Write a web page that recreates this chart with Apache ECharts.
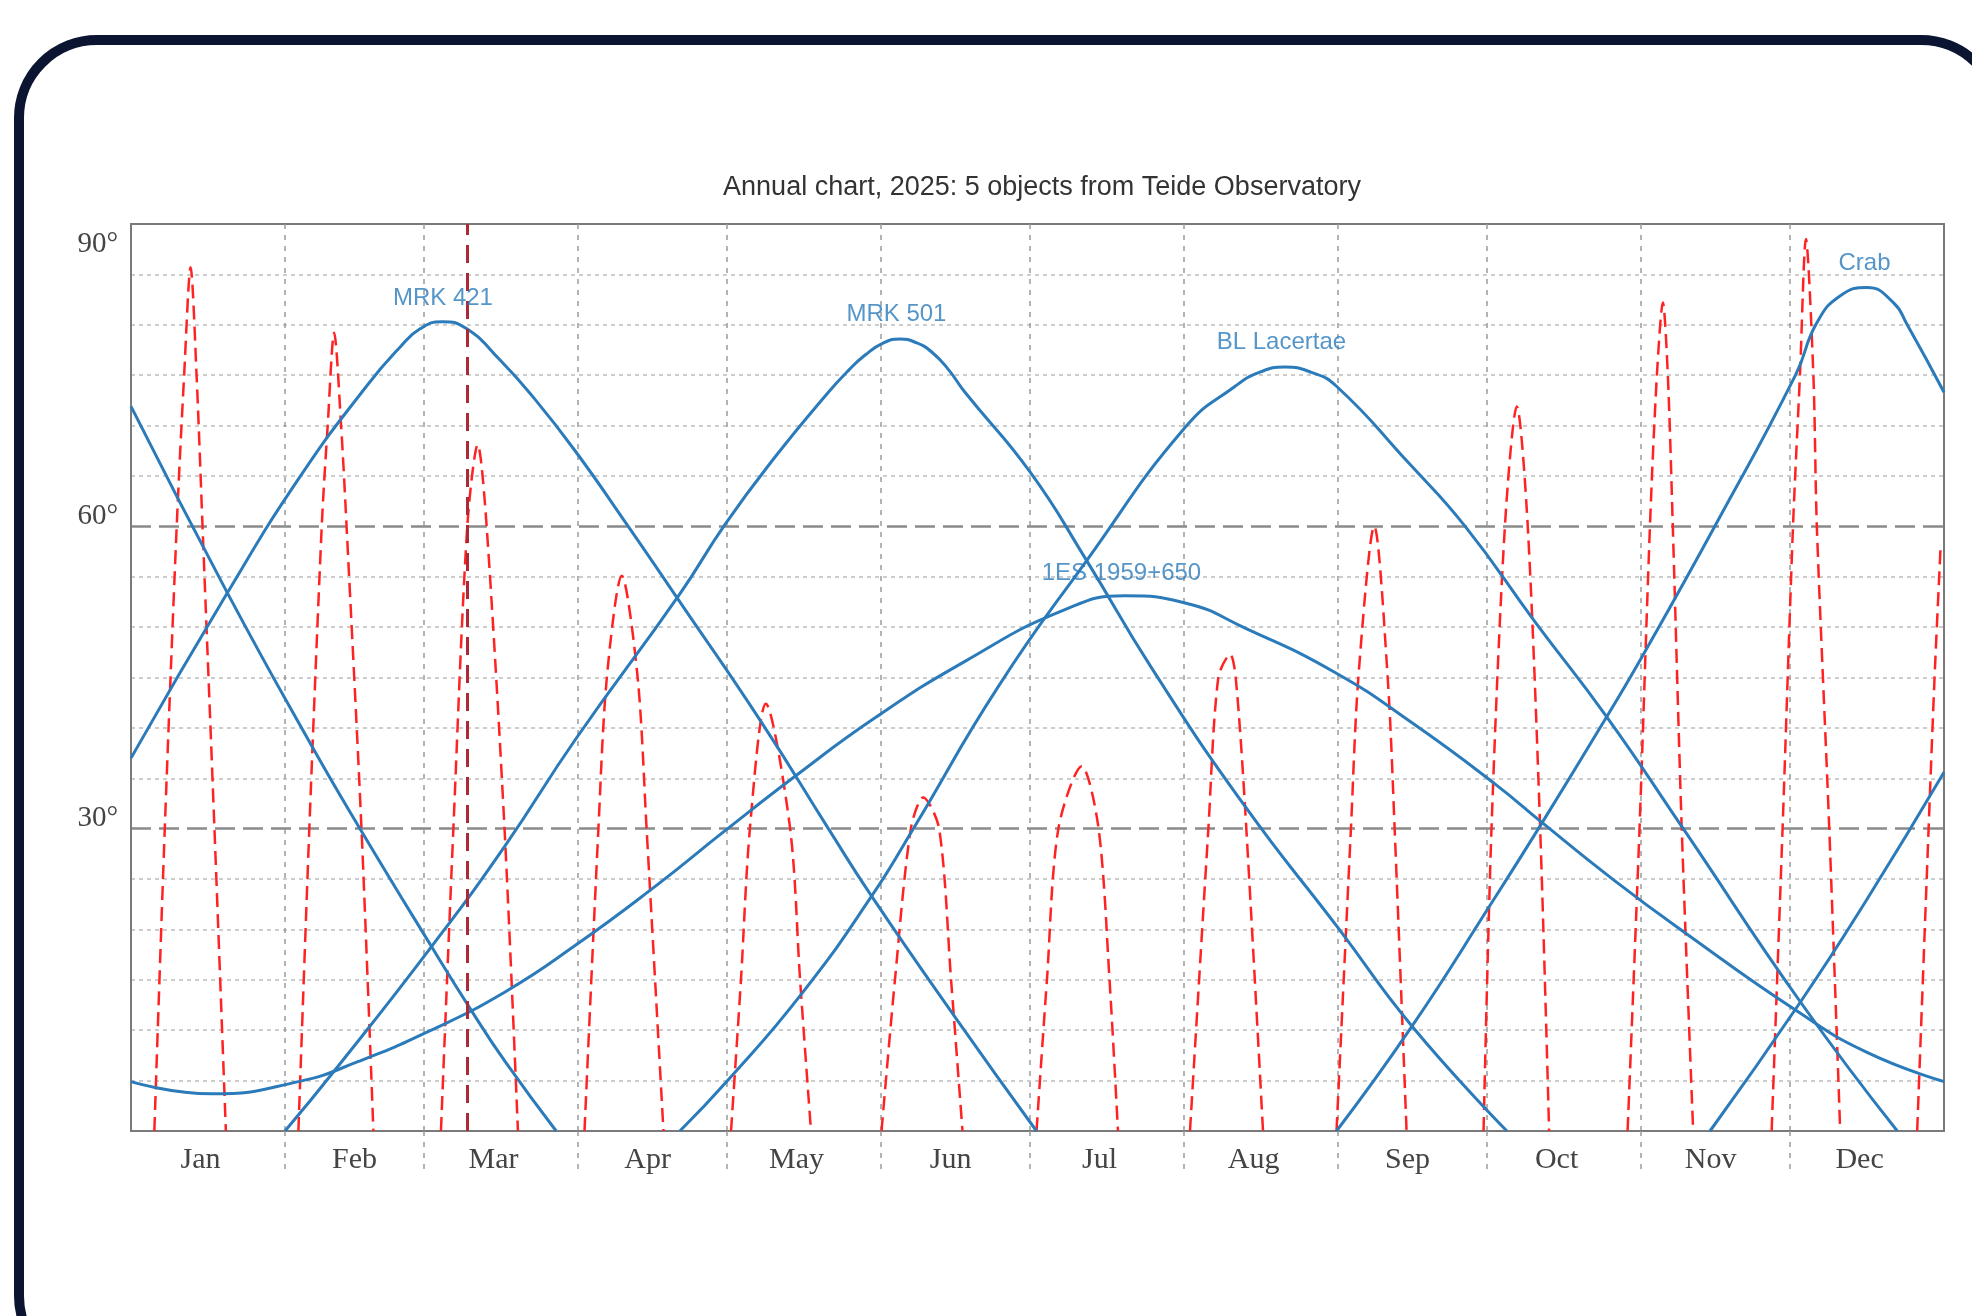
<!DOCTYPE html>
<html>
<head>
<meta charset="utf-8">
<script src="https://cdn.jsdelivr.net/npm/echarts@6/dist/echarts.min.js"></script>
<style>
  html, body { margin: 0; padding: 0; background: #fff; }
  #chart { width: 1972px; height: 1316px; }
</style>
</head>
<body>
<div id="chart"></div>
<script>
// months on the x axis (day of year 0..365)
var months = ['Jan','Feb','Mar','Apr','May','Jun','Jul','Aug','Sep','Oct','Nov','Dec'];
var monthStart = [31, 59, 90, 120, 151, 181, 212, 243, 273, 304, 334];
var monthMid = [14, 45, 73, 104, 134, 165, 195, 226, 257, 287, 318, 348];
var yTicks = [30, 60, 90];
var today = 67.7;

// altitude (deg) of each object, [day, alt]
var crab = [[0,71.9],[19.4,53.4],[36.4,38.2],[46.1,30.0],[60.5,18.3],[68.6,11.9],[75.3,6.9],[85.6,0],
    [160,'-'],
    [242.7,0],[257.9,10.4],[274,22.7],[284.1,30.6],[297.1,41.1],[304.5,47.3],[319.3,60.4],[335.1,75],
    [339.4,80.2],[344.2,82.9],[349.5,83.7],[354.8,82.2],[357.6,80],[365,73.3]];
var mrk421 = [[0,37.0],[19.4,53.4],[34.0,64.9],[47.4,73.9],[54.2,77.8],[58.2,79.6],[62.6,80.3],[67.6,79.6],
    [74.3,76.5],[81.0,72.8],[89.4,67.5],[100.1,60],[110.5,52.5],[127,40.5],[140.4,30],[149.1,23.3],
    [165.9,11.3],[182.3,0],
    [250,'-'],
    [317.9,0],[336.1,12.8],[349.5,23],[365,35.6]];
var mrk501 = [[31.0,0],[41,6.0],[60.5,18.3],[75.3,28.3],[89.4,38.8],[110.5,53.3],[119.6,60.2],[129.7,66.9],
    [140.4,73.3],[144.5,75.5],[147.8,77.0],[151.5,78.2],[154.8,78.6],[158.2,78.2],[161.2,77.3],[164.5,75.6],
    [167.9,73.3],[181,65.4],[192.4,56.6],[205.4,46.0],[224.3,32.2],[243.1,20.1],[257.9,10.4],[277,0]];
var blLac = [[110.5,0],[120.3,5.1],[135,13.6],[149.1,23.3],[157.5,30],[174.6,44.1],[192.4,56.6],[212.2,69.8],
    [222.3,73.9],[227.3,75.3],[232.3,75.8],[237.5,75.3],[242.7,73.9],[257.2,66.3],[268.6,60],[282.7,50.5],
    [297.1,41.1],[312.5,30],[336.1,12.8],[355.6,0]];
var es1959 = [[0,4.9],[16.2,3.7],[33.7,4.9],[45.8,6.9],[60,9.9],[75.3,13.8],[89.4,18.4],[105.6,24.3],
    [119.6,29.8],[133.7,35.2],[149.8,41.0],[167.9,46.6],[187.4,51.6],[200.1,53.1],[212.2,52.4],[224.3,49.9],
    [242.4,45.5],[257.9,40.5],[274.7,34.4],[284.1,30.6],[298.8,24.8],[312.5,19.8],[335.4,11.9],
    [349.5,7.8],[365,4.9]];

// moon altitude, one arc per lunation
var moon = [[4.7,0],[6.8,30],[9.2,60],[10.7,75],[12.0,85.7],[13.2,75],[14.4,60],[16.8,30],[19.1,0],[25,'-'],
    [33.7,0],[35.9,30],[38.4,60],[39.6,70],[40.9,79.2],[42.3,70],[43.4,60],[46.4,30],[48.8,0],[55,'-'],
    [62.4,0],[64.9,30],[67.7,60],[69.8,68.1],[71.6,60],[75.2,30],[77.9,0],[85,'-'],
    [91.3,0],[94.1,30],[95.8,45],[98.8,55.1],[102.0,45],[103.8,30],[107.2,0],[114,'-'],
    [120.8,0],[122.8,15],[124.6,30],[127.8,42.4],[132.7,30],[134.7,15],[136.9,0],[144,'-'],
    [151.1,0],[153.8,15],[157.0,30],[159.5,33.1],[162.7,30],[165.1,15],[167.4,0],[175,'-'],
    [182.3,0],[184.4,15],[186.7,30],[191.4,36.2],[194.8,30],[197.0,15],[198.7,0],[206,'-'],
    [213.2,0],[216.9,30],[218.9,45],[221.3,47.3],[222.4,45],[224.3,32],[227.9,0],[235,'-'],
    [242.7,0],[245.6,30],[247.1,45],[250.3,60],[253.0,45],[254.4,30],[256.8,0],[264,'-'],
    [272.3,0],[273.9,30],[276.6,60],[279.0,71.9],[281.2,60],[283.7,30],[285.5,0],[293,'-'],
    [301.3,0],[303.7,30],[305.8,60],[307.2,75],[308.4,82.2],[309.4,75],[310.4,60],[312.2,30],[314.5,0],[322,'-'],
    [330.3,0],[332.5,30],[334.6,60],[336.0,75],[337.2,88.5],[338.7,75],[339.4,60],[341.9,30],[344.1,0],[352,'-'],
    [359.6,0],[361.9,30],[363.1,45],[364.3,57.8]];

var labelPoints = [
    {name: 'MRK 421', value: [62.8, 82.6]},
    {name: 'MRK 501', value: [154.1, 81.0]},
    {name: 'BL Lacertae', value: [231.6, 78.3]},
    {name: '1ES 1959+650', value: [199.4, 55.3]},
    {name: 'Crab', value: [349.0, 86.1]}
];

var blue = '#2b7bba';
var serif = '"Liberation Serif", "DejaVu Serif", serif';
var sans = '"Liberation Sans", Arial, sans-serif';

function objLine(name, data) {
    return {
        name: name,
        type: 'line',
        data: data,
        smooth: 0.5,
        showSymbol: false,
        connectNulls: false,
        z: 4,
        lineStyle: { color: blue, width: 3 }
    };
}

var myChart = echarts.init(document.getElementById('chart'));
var option = {
    animation: false,
    backgroundColor: '#fff',
    title: {
        text: 'Annual chart, 2025: 5 objects from Teide Observatory',
        left: 1037,
        top: 169,
        textAlign: 'center',
        textStyle: { fontFamily: sans, fontSize: 27, fontWeight: 'normal', color: '#333' }
    },
    graphic: [{
        type: 'rect',
        shape: { x: 19, y: 40, width: 1980, height: 1334, r: 78 },
        style: { fill: 'none', stroke: '#0b1431', lineWidth: 10 },
        silent: true
    }],
    grid: {
        left: 131, right: 28, top: 224, bottom: 185,
        show: true, borderColor: '#7a7a7a', borderWidth: 2
    },
    xAxis: {
        type: 'value',
        min: 0,
        max: 365,
        axisLine: { show: true, lineStyle: { color: '#7a7a7a', width: 2 } },
        axisTick: {
            show: true, length: 44, customValues: monthStart,
            lineStyle: { color: '#9a9a9a', type: [5, 6], width: 1.5 }
        },
        splitLine: {
            show: true,
            lineStyle: { color: '#9a9a9a', type: [5, 6], width: 1.5 }
        },
        axisLabel: {
            customValues: monthMid,
            margin: 14,
            fontFamily: serif, fontSize: 30, color: '#444',
            formatter: function (v) { return months[monthMid.indexOf(v)]; }
        }
    },
    yAxis: {
        type: 'value',
        min: 0,
        max: 90,
        interval: 30,
        axisLine: { show: true, lineStyle: { color: '#7a7a7a', width: 2 } },
        axisTick: { show: false },
        minorTick: { show: false, splitNumber: 6 },
        minorSplitLine: { show: true, lineStyle: { color: '#bdbdbd', type: [4, 4], width: 1.5 } },
        splitLine: {
            show: true, showMinLine: false, showMaxLine: false,
            lineStyle: { color: '#8a8a8a', type: [20, 8], width: 2.5 }
        },
        axisLabel: {
            margin: 13,
            fontFamily: serif, fontSize: 29, color: '#444',
            formatter: function (v) {
                if (yTicks.indexOf(v) < 0) return '';
                return v === 90 ? '{top|' + v + '°}' : '{n|' + v + '°}';
            },
            rich: {
                n: { fontFamily: serif, fontSize: 29, color: '#444', padding: [0, 0, 20, 0] },
                top: { fontFamily: serif, fontSize: 29, color: '#444', padding: [40, 0, 0, 0] }
            }
        }
    },
    series: [
        {
            name: 'Moon',
            type: 'line',
            data: moon,
            smooth: 0.3,
            showSymbol: false,
            connectNulls: false,
            z: 3,
            lineStyle: { color: '#ff2222', width: 2.5, type: [14, 7] },
            markLine: {
                silent: true,
                symbol: 'none',
                label: { show: false },
                lineStyle: { color: '#ab2a35', width: 3, type: [18, 10] },
                data: [{ xAxis: today }]
            }
        },
        objLine('MRK 421', mrk421),
        objLine('MRK 501', mrk501),
        objLine('BL Lacertae', blLac),
        objLine('1ES 1959+650', es1959),
        objLine('Crab', crab),
        {
            name: 'labels',
            type: 'scatter',
            data: labelPoints,
            symbolSize: 1,
            z: 5,
            itemStyle: { color: 'rgba(0,0,0,0)' },
            label: {
                show: true, position: 'inside', formatter: '{b}',
                fontFamily: sans, fontSize: 24, color: blue
            }
        }
    ]
};
myChart.setOption(option);
</script>
</body>
</html>
